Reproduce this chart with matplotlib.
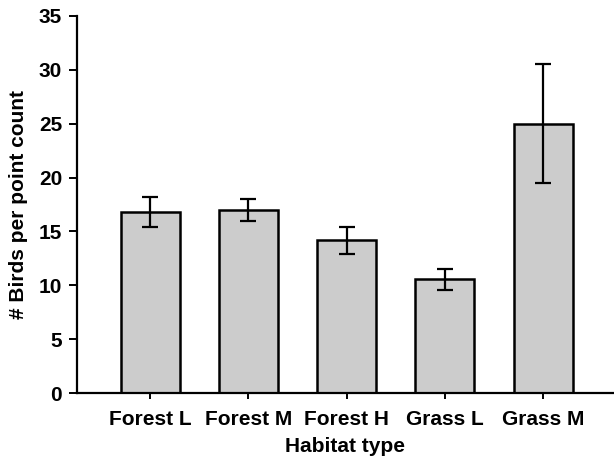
import matplotlib
matplotlib.use("Agg")
import matplotlib.pyplot as plt
import numpy as np

categories = ["Forest L", "Forest M", "Forest H", "Grass L", "Grass M"]
values = [16.8, 17.0, 14.2, 10.55, 25.0]
errors = [1.4, 1.0, 1.25, 0.97, 5.55]
yticks = [0, 5, 10, 15, 20, 25, 30, 35]

plt.rcParams['font.family'] = ['Liberation Sans', 'DejaVu Sans']
plt.rcParams['font.weight'] = 'bold'

fig = plt.figure(figsize=(6.14, 4.61), dpi=100)
ax = fig.add_axes([0.1262, 0.1475, 0.998 - 0.1262, 0.9653 - 0.1475])

x = np.arange(len(categories))
ax.bar(x, values, width=0.6, color="#cccccc", edgecolor="black", linewidth=1.8,
       zorder=2)
ax.errorbar(x, values, yerr=errors, fmt="none", ecolor="black", elinewidth=1.6,
            capsize=5.5, capthick=1.6, zorder=3)

ax.set_xlim(-0.74, 4.71)
ax.set_ylim(0, 35)
ax.set_yticks(yticks)
ax.set_yticklabels([str(t) for t in yticks])
ax.set_xticks(x)
ax.set_xticklabels(categories)

for s in ["top", "right"]:
    ax.spines[s].set_visible(False)
for s in ["left", "bottom"]:
    ax.spines[s].set_linewidth(1.6)

fs = 15
ax.tick_params(axis="y", direction="out", length=6, width=1.4, labelsize=fs, pad=5)
ax.tick_params(axis="x", direction="out", length=4, width=1.4, labelsize=fs, pad=8)
for lab in ax.get_xticklabels() + ax.get_yticklabels():
    lab.set_fontweight("bold")

ax.set_xlabel("Habitat type", fontsize=fs, fontweight="bold", labelpad=6)
ax.set_ylabel("# Birds per point count", fontsize=fs, fontweight="bold", labelpad=8)

fig.savefig("out.png", dpi=100)
